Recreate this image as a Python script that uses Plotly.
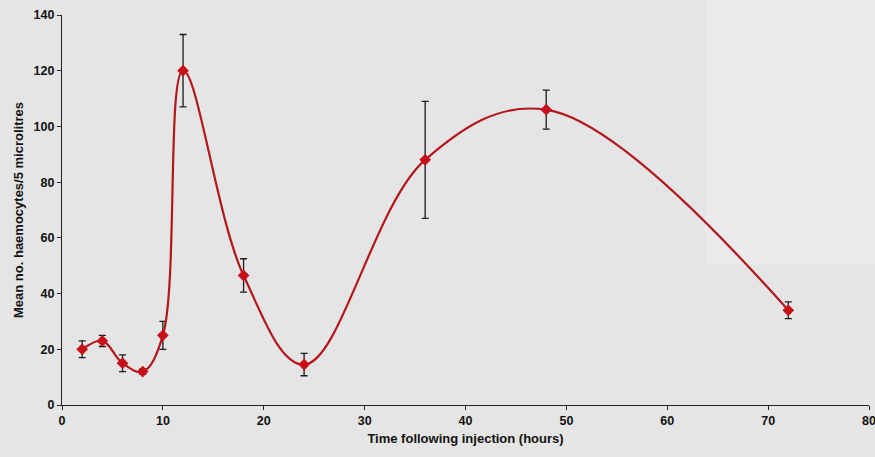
import plotly.graph_objects as go

# Data
hours = [2, 4, 6, 8, 10, 12, 18, 24, 36, 48, 72]
mean_haemocytes = [20, 23, 15, 12, 25, 120, 46.5, 14.5, 88, 106, 34]
error = [3, 2, 3, 1, 5, 13, 6, 4, 21, 7, 3]

x_ticks = [0, 10, 20, 30, 40, 50, 60, 70, 80]
y_ticks = [0, 20, 40, 60, 80, 100, 120, 140]

font_family = "Liberation Sans, Arial, sans-serif"

fig = go.Figure()
fig.add_trace(go.Scatter(
    x=hours, y=mean_haemocytes,
    mode="lines+markers",
    line=dict(color="#b3161b", width=2.2, shape="spline", smoothing=1.05),
    marker=dict(symbol="diamond", size=9, color="#c8101a"),
    error_y=dict(type="data", array=error, visible=True,
                 color="#1a1a1a", thickness=1.3, width=3.5),
    showlegend=False,
))

axis_font = dict(family=font_family, size=12.5, color="#111111")
title_font = dict(family=font_family, size=13, color="#111111")

fig.update_layout(
    width=875, height=457,
    margin=dict(l=62, r=6, t=15, b=52, autoexpand=False),
    paper_bgcolor="#e5e5e5",
    plot_bgcolor="rgba(0,0,0,0)",
    font=dict(family=font_family, color="#111111"),
    shapes=[dict(type="rect", xref="paper", yref="paper", layer="below",
                 x0=(705 - 62) / 807, x1=1.02, y0=(405 - 265) / 390, y1=1.05,
                 fillcolor="#eaeaea", line=dict(width=0))],
    xaxis=dict(
        range=[0, 80], tickvals=x_ticks, ticktext=[f"<b>{v}</b>" for v in x_ticks],
        showgrid=False, zeroline=False, showline=True, linecolor="#222222", linewidth=1.2,
        ticks="outside", ticklen=4, tickcolor="#222222",
        tickfont=axis_font, automargin=False, ticklabeloverflow="allow",
        title=dict(text="<b>Time following injection (hours)</b>",
                   font=title_font, standoff=6),
    ),
    yaxis=dict(
        range=[0, 140], tickvals=y_ticks, ticktext=[f"<b>{v}</b>" for v in y_ticks],
        showgrid=False, zeroline=False, showline=True, linecolor="#222222", linewidth=1.2,
        ticks="outside", ticklen=4, tickcolor="#222222",
        tickfont=axis_font, automargin=False, ticklabeloverflow="allow",
        title=dict(text="<b>Mean no. haemocytes/5 microlitres</b>",
                   font=title_font, standoff=6),
    ),
)

fig.write_html("out.html")
